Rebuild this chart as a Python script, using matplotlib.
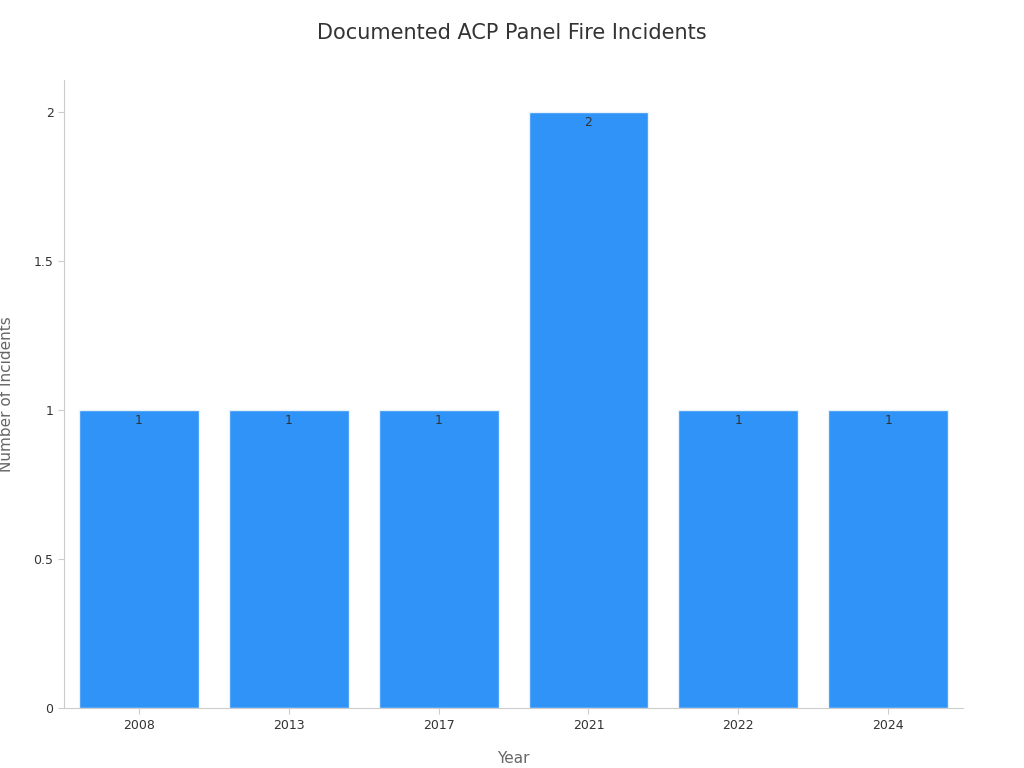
import matplotlib.pyplot as plt
from matplotlib.ticker import FuncFormatter

years = ["2008", "2013", "2017", "2021", "2022", "2024"]
incidents = [1, 1, 1, 2, 1, 1]

fig = plt.figure(figsize=(10.24, 7.68), dpi=100)
ax = fig.add_axes([0.0625, 0.078, 0.878, 0.818])

bars = ax.bar(range(len(years)), incidents, width=0.8, color="#3093f8",
              edgecolor="#e8f2fd", linewidth=1)
for rect, val in zip(bars, incidents):
    ax.text(rect.get_x() + rect.get_width() / 2, val - 0.015, str(val),
            ha="center", va="top", fontsize=9, color="#333333")

ax.set_xticks(range(len(years)))
ax.set_xticklabels(years)
ax.set_xlim(-0.5, len(years) - 0.5)
ax.set_ylim(0, 2.107)
ax.set_yticks([0, 0.5, 1, 1.5, 2])
ax.yaxis.set_major_formatter(FuncFormatter(lambda v, p: f"{v:g}"))
ax.tick_params(labelsize=9, colors="#333333", length=4)
ax.tick_params(axis="both", color="#cccccc")

for s in ["top", "right"]:
    ax.spines[s].set_visible(False)
for s in ["left", "bottom"]:
    ax.spines[s].set_color("#cccccc")

ax.set_xlabel("Year", fontsize=11, color="#666666", labelpad=14)
ax.set_ylabel("Number of Incidents", fontsize=11, color="#666666", labelpad=14)
fig.suptitle("Documented ACP Panel Fire Incidents", fontsize=15, color="#333333", y=0.97)

fig.savefig("out.png", dpi=100)
